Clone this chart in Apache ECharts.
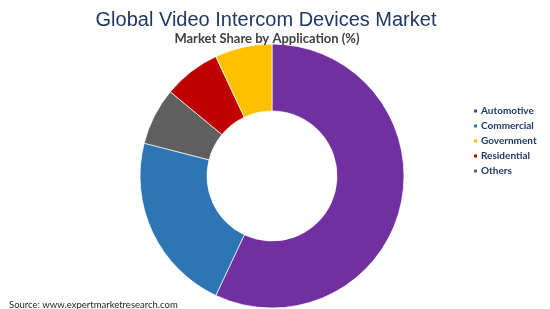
<!DOCTYPE html>
<html><head><meta charset="utf-8">
<script src="https://cdn.jsdelivr.net/npm/echarts@6/dist/echarts.min.js"></script>
<style>html,body{margin:0;padding:0;background:#fff}#c{width:550px;height:309px}</style>
</head><body><div id="c"></div>
<script>
const categories = ['Automotive', 'Commercial', 'Others', 'Residential', 'Government'];
const values = [57, 22, 7, 7, 7];
const colors = ['#7030A0', '#2E75B6', '#5F5F5F', '#C00000', '#FFC000'];
const legendOrder = ['Automotive', 'Commercial', 'Government', 'Residential', 'Others'];

const chart = echarts.init(document.getElementById('c'), null, {renderer: 'canvas'});
chart.setOption({
  animation: false,
  title: [
    {text: 'Global Video Intercom Devices Market', left: 261, top: 5, textAlign: 'center',
     textStyle: {fontFamily: 'Liberation Sans', fontSize: 20, fontWeight: 'normal', color: '#1F3864'}},
    {text: 'Market Share by Application (%)', left: 262, top: 27, textAlign: 'center',
     textStyle: {fontFamily: 'Lato', fontSize: 13, fontWeight: 'bold', color: '#404040'}},
    {text: 'Source: www.expertmarketresearch.com', left: 4, top: 295,
     textStyle: {fontFamily: 'Lato', fontSize: 9.5, fontWeight: 'normal', color: '#262626'}}
  ],
  legend: {
    orient: 'vertical', left: 467, top: 101, itemGap: 5, itemWidth: 5, itemHeight: 5,
    icon: 'rect', data: legendOrder,
    textStyle: {fontFamily: 'Lato', fontSize: 10, fontWeight: 'bold', color: '#1F3864', padding: [0,0,0,-2]}
  },
  series: [{
    type: 'pie', center: [272, 176], radius: [65, 132], startAngle: 90, clockwise: true,
    label: {show: false}, labelLine: {show: false}, emphasis: {disabled: true},
    itemStyle: {borderColor: '#ffffff', borderWidth: 0.7},
    data: categories.map((n, i) => ({name: n, value: values[i], itemStyle: {color: colors[i]}}))
  }]
});
</script></body></html>
